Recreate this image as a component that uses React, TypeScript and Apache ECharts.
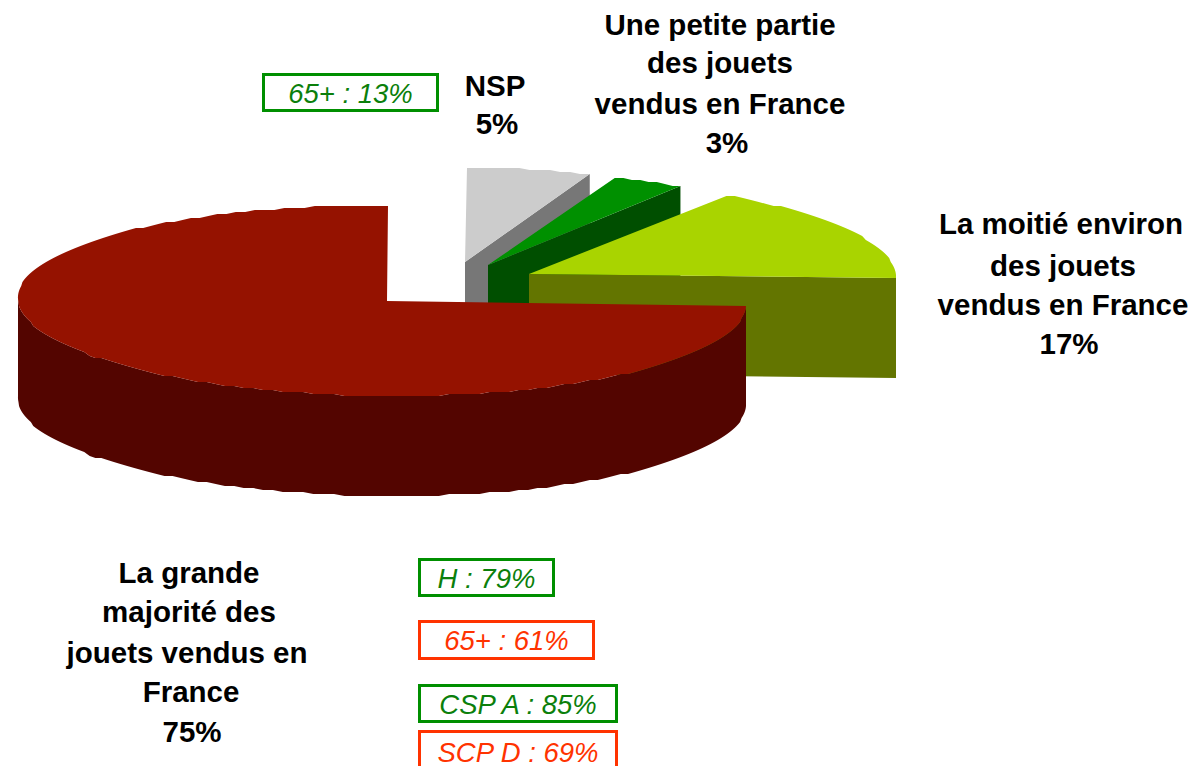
import React, { useEffect, useRef } from "react";
import * as echarts from "echarts";

// Data, clockwise from twelve o'clock
const sliceNames = ["NSP", "Une petite partie", "La moitié environ", "La grande majorité"];
const sliceValues = [5, 3, 17, 75];

// Slice labels
const labelNsp = ["NSP", "5%"];
const labelSmall = ["Une petite partie", "des jouets", "vendus en France", "3%"];
const labelHalf = ["La moitié environ", "des jouets", "vendus en France", "17%"];
const labelMajor = ["La grande", "majorité des", "jouets vendus en", "France", "75%"];

// Call-out boxes
const boxTexts = ["65+ : 13%", "H : 79%", "65+ : 61%", "CSP A : 85%", "SCP D : 69%"];
const boxKinds = ["g", "g", "r", "g", "r"];

// Drawing styles
const topColors = ["#CCCCCC", "#009000", "#A9D400", "#951200"];
const wallColors = ["#777777", "#004F00", "#637500", "#530500"];
const apexX = [465, 488, 529, 387];
const apexY = [262, 265, 274, 301];
const shiftX = [-4, -2, 3, -5];

const RX = 364;
const RY = 95;
const DEPTH = 100;
const rad = Math.PI / 180;

function warp(deg: number): number {
  return (deg - 3 * Math.sin(2 * deg * rad)) * rad;
}

function outer(i: number, deg: number): number[] {
  const warped = warp(deg);
  const dx = shiftX[i] + RX * Math.cos(warped) + 6 * Math.sin(warped);
  const dy = -RY * Math.sin(warped) + 0.013 * dx;
  return [apexX[i] + dx, Math.round((apexY[i] + dy) / 2) * 2];
}

function renderItem(_p: any, api: any) {
  const i = api.value(0);
  const value = api.value(1);
  let before = 0;
  for (let k = 0; k < i; k++) before += sliceValues[k];
  const start = 90 - (before / 100) * 360;
  const end = start - (value / 100) * 360;
  const arc: number[][] = [];
  const front: number[][] = [];
  const n = Math.max(2, Math.ceil((start - end) / 1.5));
  for (let s = 0; s <= n; s++) {
    const deg = start + ((end - start) * s) / n;
    const p = outer(i, deg);
    arc.push(p);
    if (deg <= 0.01 && deg >= -180.01) front.push(p);
  }
  const apex = [apexX[i], apexY[i]];
  const down = (p: number[]) => [p[0], p[1] + DEPTH];
  const children: any[] = [];
  const wall = { fill: wallColors[i] };
  // outer wall: only the part that faces the viewer
  if (front.length > 1) {
    children.push({
      type: "polygon",
      shape: { points: [...front, ...front.slice().reverse().map(down)] },
      style: wall,
    });
  }
  // radial face at the clockwise end of the slice (not for the big one)
  if (i < 3) {
    const tip = arc[arc.length - 1];
    children.push({
      type: "polygon",
      shape: { points: [apex, tip, down(tip), down(apex)] },
      style: wall,
    });
  }
  children.push({
    type: "polygon",
    shape: { points: [apex, ...arc] },
    style: { fill: topColors[i] },
  });
  return { type: "group", children };
}

const FONT = "'Liberation Sans', Arial, sans-serif";
const bold = (text: string, x: number, y: number) => ({
  type: "text",
  x,
  y,
  style: {
    text,
    fill: "#000",
    font: `bold 29.5px ${FONT}`,
    textAlign: "center",
    textVerticalAlign: "middle",
  },
});

const boxGeom = [
  [263, 74, 174, 36],
  [419, 559, 134, 36],
  [419, 621, 174, 37],
  [419, 685, 197, 36],
  [419, 731, 197, 40],
];

function boxEls(i: number) {
  const [x, y, w, h] = boxGeom[i];
  const green = boxKinds[i] === "g";
  return [
    {
      type: "rect",
      shape: { x: x + 0.5, y: y + 0.5, width: w, height: h },
      style: { fill: "#fff", stroke: green ? "#008F00" : "#FF3300", lineWidth: 3 },
    },
    {
      type: "text",
      x: x + w / 2 + 0.5,
      y: y + h / 2 + 1,
      style: {
        text: boxTexts[i],
        fill: green ? "#0B7F0B" : "#FF3300",
        font: `italic 27.5px ${FONT}`,
        textAlign: "center",
        textVerticalAlign: "middle",
      },
    },
  ];
}

export default function App() {
  const ref = useRef<HTMLDivElement>(null);
  useEffect(() => {
    document.body.style.margin = "0";
    const chart = echarts.init(ref.current!, undefined, { renderer: "svg" });
    const ys1 = [24, 62, 103, 142];
    const xs1 = [720, 720, 720, 727];
    const ys2 = [223, 265, 304, 343];
    const xs2 = [1061, 1063, 1063, 1069];
    const ys3 = [572, 611, 652, 691, 731];
    const xs3 = [189, 189, 187, 191, 192];
    const elements: any[] = [
      bold(labelNsp[0], 495, 85),
      bold(labelNsp[1], 497, 123),
      ...labelSmall.map((t, i) => bold(t, xs1[i], ys1[i])),
      ...labelHalf.map((t, i) => bold(t, xs2[i], ys2[i])),
      ...labelMajor.map((t, i) => bold(t, xs3[i], ys3[i])),
      ...boxTexts.flatMap((_t, i) => boxEls(i)),
    ];
    chart.setOption({
      animation: false,
      backgroundColor: "#fff",
      graphic: { elements },
      series: [
        {
          type: "custom",
          coordinateSystem: "none",
          renderItem,
          silent: true,
          clip: false,
          data: sliceValues.map((v, i) => ({ name: sliceNames[i], value: [i, v] })),
        },
      ],
    });
    return () => chart.dispose();
  }, []);
  return <div ref={ref} style={{ width: 1196, height: 766 }} />;
}
